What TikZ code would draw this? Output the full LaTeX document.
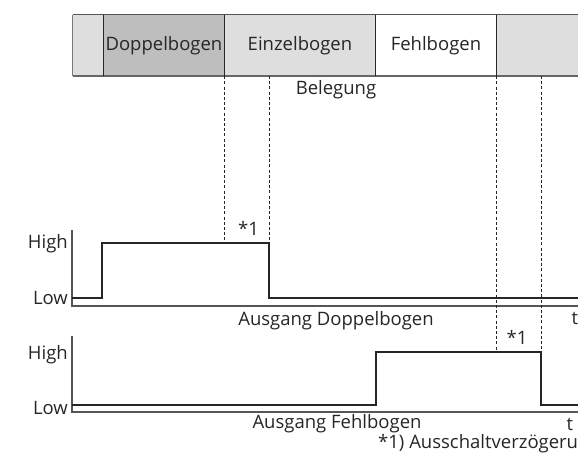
\documentclass[tikz,border=0pt]{standalone}
\usepackage{fontspec}
\setmainfont{Open Sans}
\definecolor{barlight}{HTML}{DEDEDE}
\definecolor{bardark}{HTML}{BEBEBE}
\definecolor{ink}{HTML}{262626}
\definecolor{axisgray}{HTML}{555555}
\begin{document}
\begin{tikzpicture}[x=1pt,y=-1pt,
  lbl/.style={font=\fontsize{18.5}{22}\selectfont, text=ink, inner sep=0pt},
  seg/.style={lbl, minimum height=61pt, anchor=west},
  signal/.style={line width=2.6pt, ink, line join=miter},
  axisline/.style={line width=1.4pt, axisgray},
  divider/.style={line width=0.9pt, ink},
  guide/.style={line width=0.8pt, ink, dash pattern=on 3pt off 2.2pt},
]
\useasboundingbox (0,0) rectangle (578,459);
\clip (0,0) rectangle (578,459);

% occupancy bar
\node[seg, fill=barlight, minimum width=31pt]    (s0) at (72.5,45.5) {};
\node[seg, fill=bardark,  minimum width=120.5pt] (s1) at (103.5,45.5) {Doppelbogen};
\node[seg, fill=barlight, minimum width=151.5pt] (s2) at (224,45.5) {Einzelbogen};
\node[seg, fill=white,    minimum width=120.5pt] (s3) at (375.5,45.5) {Fehlbogen};
\node[seg, fill=barlight, minimum width=90pt]    (s4) at (496,45.5) {};
\draw[line width=0.9pt, axisgray] (s0.north west) -- (s4.north east);
\draw[line width=2pt, axisgray!90] (s0.south west) -- (s4.south east);
\draw[line width=1.4pt, axisgray!80] (s0.north west) -- (s0.south west);
\draw[divider] (s1.north west) -- (s1.south west);
\draw[divider] (s2.north west) -- (s2.south west);
\draw[divider] (s3.north west) -- (s3.south west);
\draw[divider] (s4.north west) -- (s4.south west);
\node[lbl] (beleg) at (336,90) {Belegung};

% output "Doppelbogen"
\coordinate (o1) at (72,306);
\coordinate (o1top) at (72,230);
\coordinate (o1end) at (590,306);
\draw[axisline] (o1top) -- (o1) -- (o1end);
\coordinate (p1a) at (72,298);
\coordinate (p1b) at (102,298);
\coordinate (p1c) at (102,243);
\coordinate (p1d) at (269,243);
\coordinate (p1e) at (269,298);
\coordinate (p1f) at (590,298);
\draw[signal] (p1a) -- (p1b) -- (p1c) -- (p1d) -- (p1e) -- (p1f);
\coordinate (k1) at (224,243);
\coordinate (k2) at (269,76);
\draw[guide] (s2.south west) -- (k1);
\draw[guide] (k2) -- (p1d);
\node[lbl, anchor=east] (hi1) at (68,244) {High};
\node[lbl, anchor=east] (lo1) at (68,298) {Low};
\node[lbl] (dly1) at (248.5,228) {*1};
\node[lbl] (out1) at (336,321) {Ausgang Doppelbogen};
\node[lbl] (t1) at (575,318) {t};

% output "Fehlbogen"
\coordinate (o2) at (72,412);
\coordinate (o2top) at (72,336);
\coordinate (o2end) at (590,412);
\draw[axisline] (o2top) -- (o2) -- (o2end);
\coordinate (p2a) at (72,405);
\coordinate (p2b) at (376,405);
\coordinate (p2c) at (376,352);
\coordinate (p2d) at (541,352);
\coordinate (p2e) at (541,405);
\coordinate (p2f) at (590,405);
\draw[signal] (p2a) -- (p2b) -- (p2c) -- (p2d) -- (p2e) -- (p2f);
\coordinate (k3) at (496,352);
\coordinate (k4) at (541,76);
\draw[guide] (s4.south west) -- (k3);
\draw[guide] (k4) -- (p2d);
\node[lbl, anchor=east] (hi2) at (68,355) {High};
\node[lbl, anchor=east] (lo2) at (68,408) {Low};
\node[lbl] (dly2) at (517,337) {*1};
\node[lbl] (out2) at (337,424) {Ausgang Fehlbogen};
\node[lbl] (t2) at (570,424) {t};

% footnote, running past the right edge
\node[lbl, anchor=west] (note) at (378,444) {*1) Ausschaltverzögerung};
\end{tikzpicture}
\end{document}
